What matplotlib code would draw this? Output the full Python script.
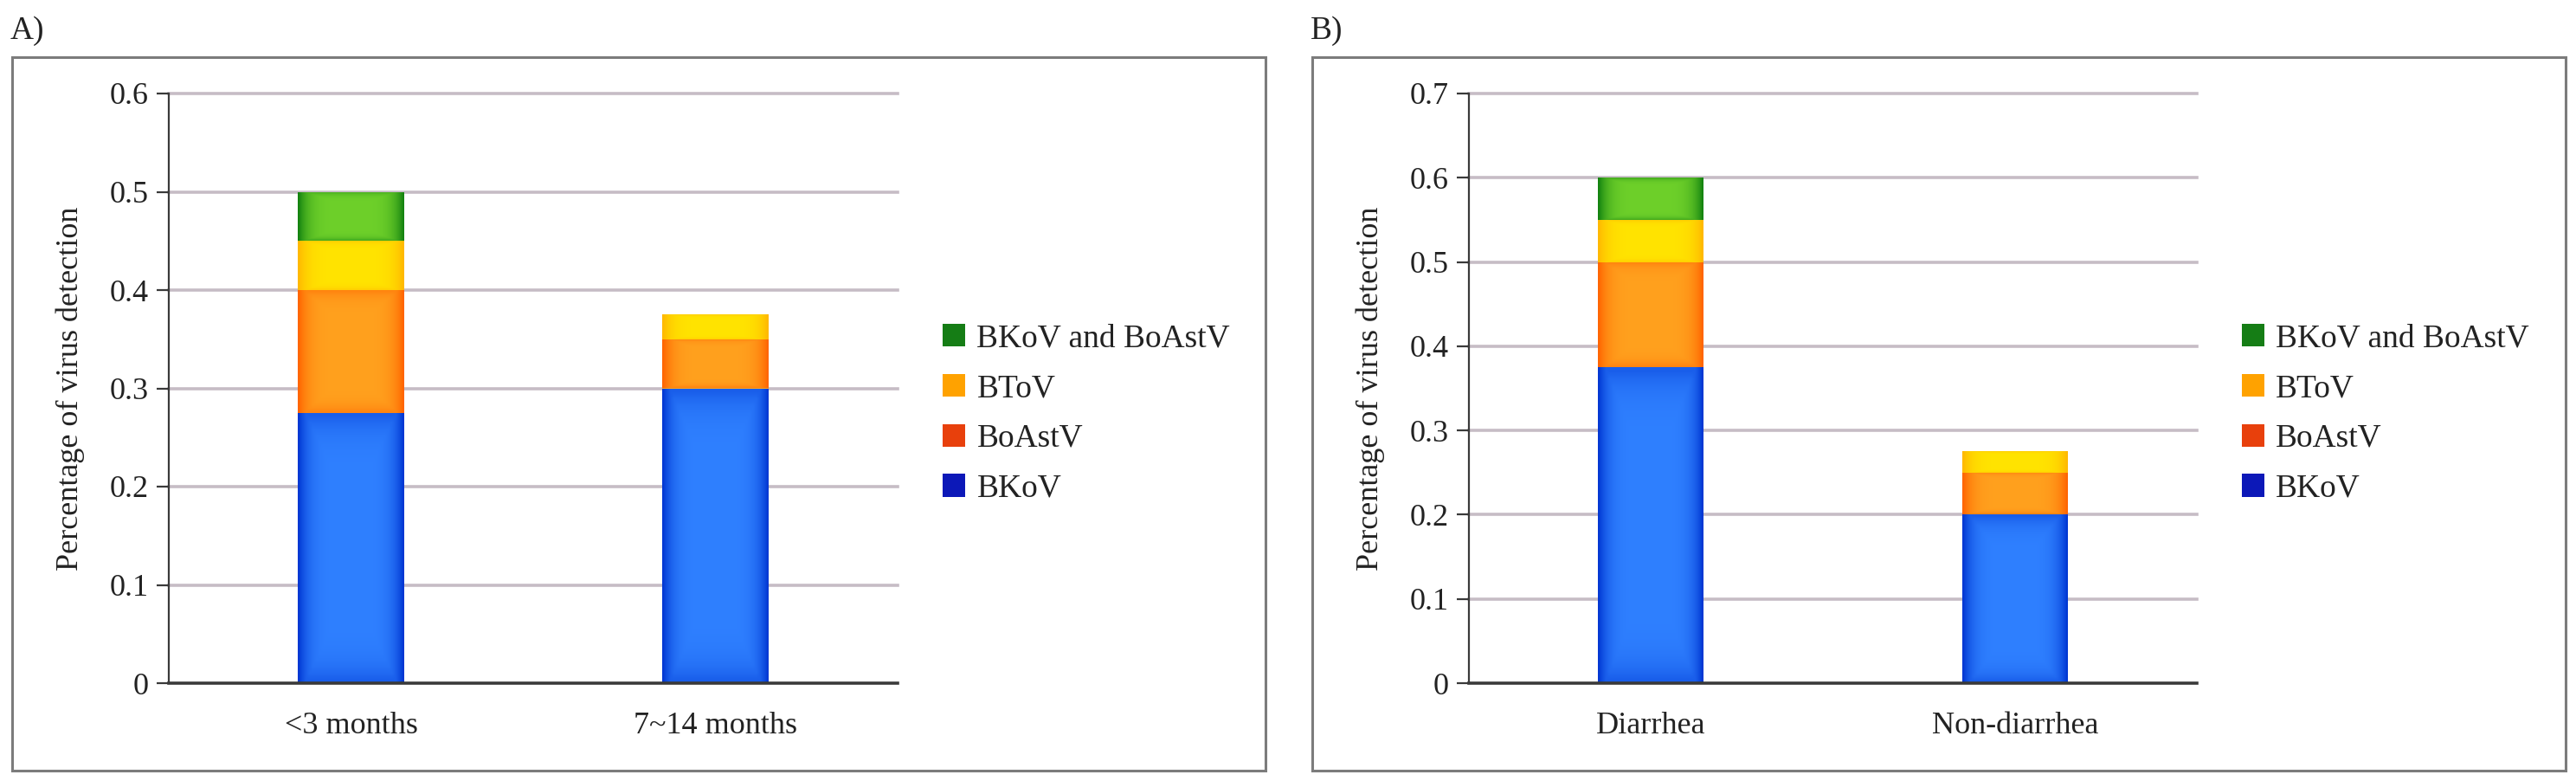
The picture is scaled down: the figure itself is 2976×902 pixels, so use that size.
import numpy as np
import matplotlib
matplotlib.use("Agg")
import matplotlib.pyplot as plt
from matplotlib.patches import Patch, Rectangle
from matplotlib.colors import to_rgb

# ---------------- data ----------------
categories_a = ["<3 months", "7~14 months"]
categories_b = ["Diarrhea", "Non-diarrhea"]

# stacked segment heights (bottom -> top)
a_blue = [0.275, 0.300]
a_orange = [0.125, 0.050]
a_yellow = [0.050, 0.025]
a_green = [0.050, 0.000]

b_blue = [0.375, 0.200]
b_orange = [0.125, 0.050]
b_yellow = [0.050, 0.025]
b_green = [0.050, 0.000]

legend_labels = ["BKoV and BoAstV", "BToV", "BoAstV", "BKoV"]
legend_colors = ["#157d15", "#ffa200", "#e8400c", "#0c18b8"]

yticks_a = [0, 0.1, 0.2, 0.3, 0.4, 0.5, 0.6]
yticks_b = [0, 0.1, 0.2, 0.3, 0.4, 0.5, 0.6, 0.7]
ytick_labels_a = ["0", "0.1", "0.2", "0.3", "0.4", "0.5", "0.6"]
ytick_labels_b = ["0", "0.1", "0.2", "0.3", "0.4", "0.5", "0.6", "0.7"]

# segment shading (center, edge)
seg_colors = [
    ("#2f80ff", "#0036d2"),   # blue
    ("#ffa11e", "#ff6400"),   # orange
    ("#ffe400", "#ffb800"),   # yellow
    ("#6ed02a", "#138210"),   # green
]

plt.rcParams["font.family"] = ["Liberation Serif", "DejaVu Serif"]

W, H = 2976, 902
fig = plt.figure(figsize=(W / 100, H / 100), dpi=100)
fig.patch.set_facecolor("white")


def fx(px):
    return px / W


def fy(py):
    return 1 - py / H


def shade(ax, patch, center, edge):
    x0, y0 = patch.get_x(), patch.get_y()
    w, h = patch.get_width(), patch.get_height()
    if h <= 0:
        return
    xs = np.linspace(-1, 1, 80)
    ys = np.linspace(-1, 1, 40)
    X, Y = np.meshgrid(xs, ys)
    wgt = np.maximum(np.abs(X) ** 5, 0.45 * np.abs(Y) ** 8)
    c = np.array(to_rgb(center))
    e = np.array(to_rgb(edge))
    img = c * (1 - wgt[..., None]) + e * wgt[..., None]
    im = ax.imshow(img, extent=(x0, x0 + w, y0, y0 + h), origin="lower",
                   aspect="auto", interpolation="bilinear", zorder=3)
    im.set_clip_path(patch)


def panel(box_left, box_right, ax_left, ax_right, cats, segs, ymax, yticks,
          yticklabels, letter):
    # outer frame
    rect = Rectangle((fx(box_left), fy(890)), fx(box_right - box_left),
                     (890 - 66) / H, transform=fig.transFigure, fill=False,
                     edgecolor="#7c7c7c", linewidth=2.2, zorder=0)
    fig.patches.append(rect)
    fig.text(fx(box_left - 2), fy(45), letter, fontsize=27, va="baseline",
             ha="left", color="#222222")

    ax_top, ax_bot = 108, 789
    ax = fig.add_axes([fx(ax_left), fy(ax_bot), fx(ax_right - ax_left),
                       (ax_bot - ax_top) / H])
    x = np.arange(len(cats))
    bottom = np.zeros(len(cats))
    for vals, (cc, ec) in zip(segs, seg_colors):
        vals = np.array(vals)
        bars = ax.bar(x, vals, width=0.29, bottom=bottom, color=cc,
                      linewidth=0, zorder=2)
        for p in bars.patches:
            shade(ax, p, cc, ec)
        bottom = bottom + vals

    ax.set_xlim(-0.5, len(cats) - 0.5)
    ax.set_ylim(0, ymax)
    ax.set_yticks(yticks)
    ax.set_yticklabels(yticklabels)
    ax.set_xticks(x)
    ax.set_xticklabels(cats)
    for t in yticks[1:]:
        ax.axhline(t, color="#c6bcc5", linewidth=2.6, zorder=1, clip_on=False)

    for s in ["top", "right"]:
        ax.spines[s].set_visible(False)
    ax.spines["left"].set_color("#3a3a3a")
    ax.spines["left"].set_linewidth(1.6)
    ax.spines["bottom"].set_color("#3a3a3a")
    ax.spines["bottom"].set_linewidth(2.6)
    ax.spines["bottom"].set_zorder(4)
    ax.tick_params(axis="y", length=10, width=1.6, color="#3a3a3a",
                   labelsize=26, pad=7, labelcolor="#222222")
    ax.tick_params(axis="x", length=0, labelsize=26, pad=24,
                   labelcolor="#222222")
    ax.set_ylabel("Percentage of virus detection", fontsize=26,
                  color="#222222")
    ax.yaxis.set_label_coords(-0.115, 0.5)

    handles = [Patch(facecolor=c, edgecolor="none") for c in legend_colors]
    ax.legend(handles, legend_labels, loc="center left",
              bbox_to_anchor=(1 + 52 / (ax_right - ax_left), 0.457),
              frameon=False, fontsize=27, handlelength=0.7, handleheight=0.7,
              handletextpad=0.35, labelspacing=0.62, borderpad=0,
              borderaxespad=0, labelcolor="#222222")
    return ax


panel(14, 1462, 195, 1037, categories_a,
      [a_blue, a_orange, a_yellow, a_green], 0.6, yticks_a, ytick_labels_a,
      "A)")
panel(1516, 2964, 1697, 2538, categories_b,
      [b_blue, b_orange, b_yellow, b_green], 0.7, yticks_b, ytick_labels_b,
      "B)")

fig.savefig("out.png", dpi=100, facecolor="white")
